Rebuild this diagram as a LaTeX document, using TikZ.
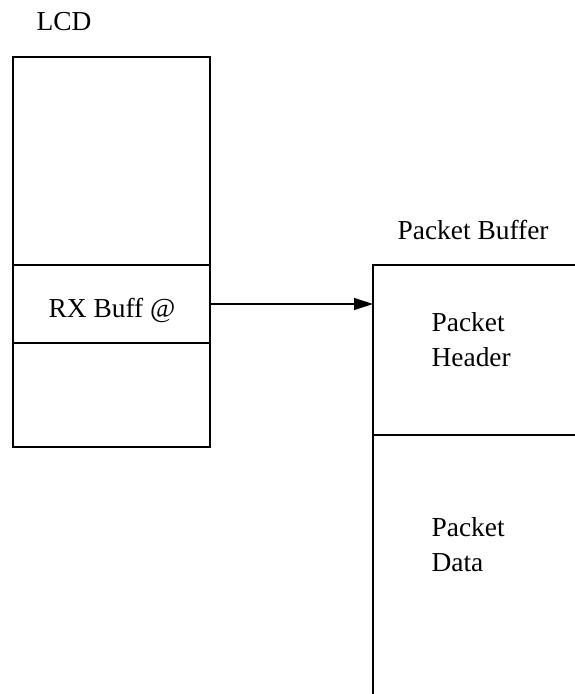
\documentclass[tikz,border=0pt]{standalone}
\usepackage{fontspec}
\setmainfont{Liberation Serif}
\usetikzlibrary{arrows.meta}
\begin{document}
\begin{tikzpicture}[x=0.5pt,y=-0.5pt,
  line width=0.65pt,
  lbl/.style={font=\fontsize{13.7}{17.5}\selectfont, inner sep=0pt, anchor=base west},
  cell/.style={draw, minimum width=98.5pt, inner sep=0pt, font=\fontsize{13.7}{17.5}\selectfont}]
\useasboundingbox (0,0) rectangle (574,694);
% LCD
\node[cell, minimum height=195pt] (lcd) at (111.5,252) {};
\node[cell, minimum height=39pt] (rx) at (111.5,304) {};
\node[lbl] (lcdlbl) at (36,31) {LCD};
\node[lbl] (rxlbl) at (48,318) {RX Buff @};
% Packet buffer
\coordinate (pbtl) at (373,265);
\coordinate (pbtr) at (576,265);
\coordinate (pbbl) at (373,696);
\coordinate (pbml) at (373,435);
\coordinate (pbmr) at (576,435);
\coordinate (pbin) at (373,304);
\draw (pbtr) -- (pbtl) -- (pbbl);
\draw (pbml) -- (pbmr);
\node[lbl] (pblbl) at (397,240) {Packet Buffer};
\node[lbl, align=left] (hdr) at (431,366) {Packet\\Header};
\node[lbl, align=left] (dat) at (431,571) {Packet\\Data};
% arrow
\draw[-{Triangle[length=9.5pt,width=6pt]}] (rx.east) -- (pbin);
\end{tikzpicture}
\end{document}
